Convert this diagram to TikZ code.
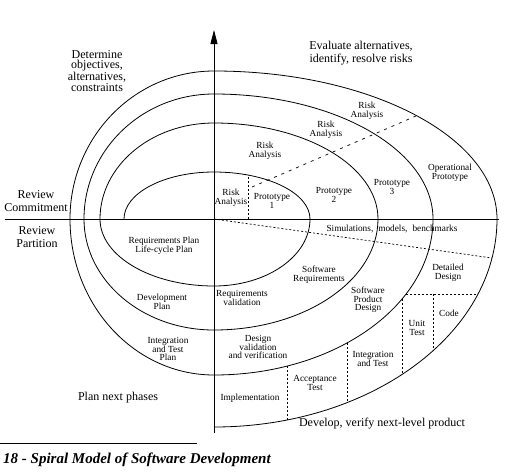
\documentclass[tikz,border=0pt]{standalone}
\usepackage{fontspec}
\setmainfont{Liberation Serif}
\usetikzlibrary{arrows.meta}

\begin{document}
\begin{tikzpicture}[
  x=1pt,y=1pt,
  >=Stealth,
  curve/.style={line width=0.8pt},
  axis/.style={line width=0.8pt},
  radial/.style={line width=0.7pt,dash pattern=on 3pt off 5pt},
  divline/.style={line width=0.7pt,dash pattern=on 2pt off 2pt},
  big/.style={font=\fontsize{12}{12.5}\selectfont,align=center,inner sep=0pt},
  bigtight/.style={font=\fontsize{12}{10.5}\selectfont,align=center,inner sep=0pt},
  lbl/.style={font=\fontsize{9.3}{8.6}\selectfont,align=center,inner sep=0pt},
]
  \useasboundingbox (-214,-253) rectangle (304,219);

  % axes
  \draw[axis,-{Triangle[length=14pt,width=7pt]}] (0,-214) -- (0,189);
  \draw[axis] (-209,0) -- (285,0);

  % the spiral, quarter by quarter
  \draw[curve] (-90,0)
    arc[start angle=180,end angle=90,x radius=90,y radius=47]
    arc[start angle=90,end angle=0,x radius=96,y radius=47]
    arc[start angle=0,end angle=-90,x radius=96,y radius=67]
    arc[start angle=270,end angle=180,x radius=114,y radius=67]
    arc[start angle=180,end angle=90,x radius=114,y radius=96]
    arc[start angle=90,end angle=0,x radius=164,y radius=96]
    arc[start angle=0,end angle=-90,x radius=164,y radius=111]
    arc[start angle=270,end angle=180,x radius=130,y radius=111]
    arc[start angle=180,end angle=90,x radius=130,y radius=125]
    arc[start angle=90,end angle=0,x radius=219,y radius=125]
    arc[start angle=0,end angle=-90,x radius=219,y radius=156]
    arc[start angle=270,end angle=180,x radius=144,y radius=156]
    arc[start angle=180,end angle=90,x radius=144,y radius=148]
    arc[start angle=90,end angle=0,x radius=283,y radius=148]
    arc[start angle=0,end angle=-90,x radius=283,y radius=208];

  % dashed separators
  \draw[divline] (34,0) -- (34,44);
  \draw[radial] (38,32) -- (202,103);
  \draw[divline] (0,0) -- (278,-39);
  \draw[divline] (192,-75) -- (264,-75);
  \draw[divline] (219,-75) -- (219,-132);
  \draw[divline] (188,-80) -- (188,-155.5);
  \draw[divline] (133,-124) -- (133,-183.6);
  \draw[divline] (73,-147) -- (73,-201);

  % quadrant labels
  \node[bigtight] (determine) at (-117,148) {Determine\\objectives,\\alternatives,\\constraints};
  \node[big] (evaluate) at (147,166) {Evaluate alternatives,\\identify, resolve risks};
  \node[big] (revcom)   at (-178,18)  {Review\\Commitment};
  \node[big] (revpart)  at (-177,-18) {Review\\Partition};
  \node[big] (plannext) at (-96,-179) {Plan next phases};
  \node[big] (develop)  at (168,-205) {Develop, verify next-level product};

  % upper right: risk analysis and prototypes
  \node[lbl] (risk1)  at (17,21)   {Risk\\Analysis};
  \node[lbl] (proto1) at (58,18)   {Prototype\\1};
  \node[lbl] (risk2)  at (51,68)   {Risk\\Analysis};
  \node[lbl] (proto2) at (120,24)  {Prototype\\2};
  \node[lbl] (risk3)  at (112,89)  {Risk\\Analysis};
  \node[lbl] (proto3) at (178,32)  {Prototype\\3};
  \node[lbl] (risk4)  at (153,108) {Risk\\Analysis};
  \node[lbl] (opproto) at (236,46) {Operational\\Prototype};

  % lower left: plans
  \node[lbl] (reqplan) at (-50,-27)  {Requirements Plan\\Life-cycle Plan};
  \node[lbl] (devplan) at (-52,-83)  {Development\\Plan};
  \node[lbl] (itplan)  at (-46,-130) {Integration\\and Test\\Plan};

  % lower right: development steps
  \node[lbl] (sim)     at (178,-10)  {Simulations,\hspace{5pt}models,\hspace{5pt}benchmarks};
  \node[lbl] (reqval)  at (28,-79)   {Requirements\\validation};
  \node[lbl] (swreq)   at (105,-56)  {Software\\Requirements};
  \node[lbl] (spd)     at (154,-81)  {Software\\Product\\Design};
  \node[lbl] (detdes)  at (234,-54)  {Detailed\\Design};
  \node[lbl] (code)    at (235,-94)  {Code};
  \node[lbl] (unit)    at (203,-109) {Unit\\Test};
  \node[lbl] (intest)  at (159,-140) {Integration\\and Test};
  \node[lbl] (desval)  at (44,-128)  {Design\\validation\\and verification};
  \node[lbl] (accept)  at (101,-164) {Acceptance\\Test};
  \node[lbl] (impl)    at (36,-179)  {Implementation};

  % caption
  \draw[line width=0.8pt] (-214,-224) -- (-17,-224);
  \node[anchor=west,inner sep=0pt,font=\fontsize{15}{15}\selectfont\bfseries\itshape]
    (caption) at (-211,-241) {18 - Spiral Model of Software Development};
\end{tikzpicture}
\end{document}
